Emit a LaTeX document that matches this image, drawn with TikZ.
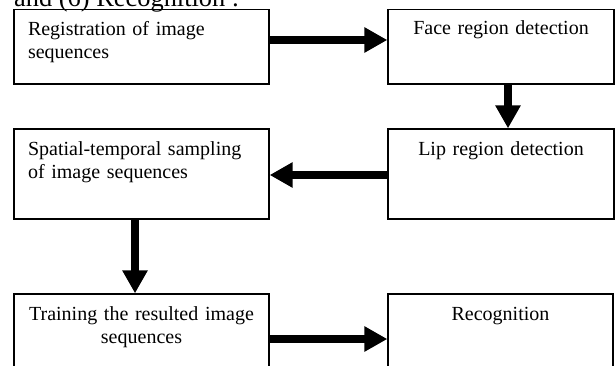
\documentclass[tikz,border=0pt]{standalone}
\usepackage{fontspec}
\setmainfont{Liberation Serif}
\usetikzlibrary{arrows.meta}
\begin{document}
\begin{tikzpicture}[x=1pt,y=1pt,
  flowbox/.style={draw, line width=1.3pt, inner ysep=0pt,
    font=\fontsize{20}{23}\selectfont},
  lbox/.style={flowbox, inner xsep=14pt, align=left},
  cbox/.style={flowbox, inner xsep=5pt, align=center},
  fatarrow/.style={line width=7.5pt, -{Triangle[length=23pt,width=24pt]}}]
\useasboundingbox (0,0) rectangle (615,365);
\clip (0,0) rectangle (615,365);
\node[anchor=base west, inner sep=0pt, font=\fontsize{26.4}{30}\selectfont] (cap) at (14,358.3) {and (6) Recognition :};
\node[lbox, text width=227pt, text height=26.5pt, text depth=48pt] (reg) at (141.5,318.25) {Registration of image\\sequences};
\node[cbox, text width=216pt, text height=25.5pt, text depth=49pt] (face) at (501,318.25) {Face region detection};
\node[cbox, text width=216pt, text height=26pt, text depth=64pt] (lip) at (501,191) {Lip region detection};
\node[lbox, text width=227pt, text height=26pt, text depth=64pt] (spat) at (141.5,191) {Spatial-temporal sampling\\of image sequences};
\node[cbox, text width=245pt, text height=26pt, text depth=64pt] (train) at (141.5,26) {Training the resulted image\\sequences};
\node[cbox, text width=215pt, text height=26pt, text depth=64pt] (recog) at (500.5,26) {Recognition};
\draw[fatarrow] ([yshift=6.75pt]reg.east) -- ([yshift=6.75pt]face.west);
\draw[fatarrow] ([xshift=7pt]face.south) -- ([xshift=7pt]lip.north);
\draw[fatarrow] ([yshift=-1pt]lip.west) -- ([yshift=-1pt]spat.east);
\draw[fatarrow] ([xshift=-6.5pt]spat.south) -- ([xshift=-6.5pt]train.north);
\draw[fatarrow] (train.east) -- (recog.west);
\end{tikzpicture}
\end{document}
